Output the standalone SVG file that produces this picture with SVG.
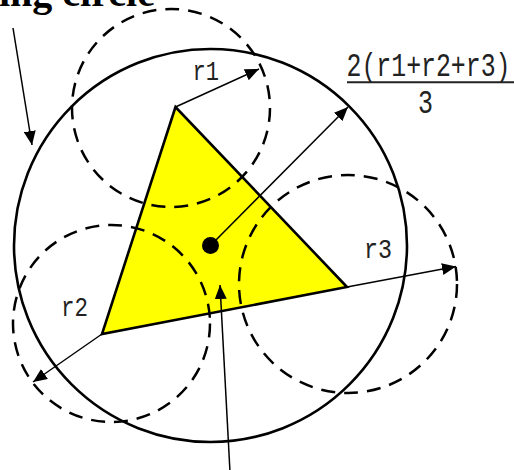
<svg xmlns="http://www.w3.org/2000/svg" width="514" height="470" viewBox="0 0 514 470">
<style>
  .solid { fill: none; stroke: #000; stroke-width: 2.6; }
  .dashed { fill: none; stroke: #000; stroke-width: 2.5; stroke-dasharray: 14 9; }
  .arrow { fill: none; stroke: #000; stroke-width: 1.5; marker-end: url(#head); }
  .lbl { font-family: "Liberation Mono", "DejaVu Sans Mono", monospace; fill: #222; }
  .title { font-family: "Liberation Serif", "Times New Roman", serif; font-weight: bold; font-size: 40px; fill: #000; }
</style>
<defs>
  <marker id="head" viewBox="0 0 14 12" markerWidth="14" markerHeight="12" refX="14" refY="6" orient="auto" markerUnits="userSpaceOnUse">
    <path d="M0,0 L14,6 L0,12 z" fill="#000"/>
  </marker>
</defs>
<rect width="514" height="470" fill="#fff"/>

<g id="triangle">
  <polygon points="175.5,107 102,334 347,287" fill="#ffff00" stroke="#000" stroke-width="2.6" stroke-linejoin="miter"/>
</g>

<g id="circle-r1">
  <circle class="dashed" cx="171" cy="108" r="99"/>
</g>
<g id="circle-r2">
  <circle class="dashed" cx="111.5" cy="323.5" r="98.5"/>
</g>
<g id="circle-r3">
  <circle class="dashed" cx="348" cy="284" r="109"/>
</g>

<g id="bounding-circle">
  <circle class="solid" cx="210.5" cy="245.5" r="196.5"/>
</g>

<g id="centroid">
  <circle cx="210.5" cy="245.5" r="8.5" fill="#000"/>
</g>

<g id="connectors">
  <line class="arrow" x1="13" y1="28" x2="32" y2="145"/>
  <line class="arrow" x1="175.5" y1="107" x2="259" y2="69"/>
  <line class="arrow" x1="102" y1="334" x2="33" y2="382"/>
  <line class="arrow" x1="347" y1="287" x2="456" y2="266.5"/>
  <line class="arrow" x1="210.5" y1="245.5" x2="348" y2="107"/>
  <line class="arrow" x1="230" y1="472" x2="220" y2="285"/>
</g>

<g id="title">
  <text class="title" x="-1" y="6">ing circle</text>
</g>

<g id="label-r1">
  <text class="lbl" x="192.5" y="80" font-size="28.5" textLength="26.5" lengthAdjust="spacingAndGlyphs">r1</text>
</g>
<g id="label-r2">
  <text class="lbl" x="61" y="316" font-size="28.5" textLength="27" lengthAdjust="spacingAndGlyphs">r2</text>
</g>
<g id="label-r3">
  <text class="lbl" x="364" y="257.5" font-size="28.5" textLength="28" lengthAdjust="spacingAndGlyphs">r3</text>
</g>

<g id="formula">
  <text class="lbl" x="346.5" y="76" font-size="33" textLength="164" lengthAdjust="spacingAndGlyphs">2(r1+r2+r3)</text>
  <line x1="347" y1="82.3" x2="514" y2="82.3" stroke="#222" stroke-width="2"/>
  <text class="lbl" x="418" y="113" font-size="33" textLength="15" lengthAdjust="spacingAndGlyphs">3</text>
</g>
</svg>
